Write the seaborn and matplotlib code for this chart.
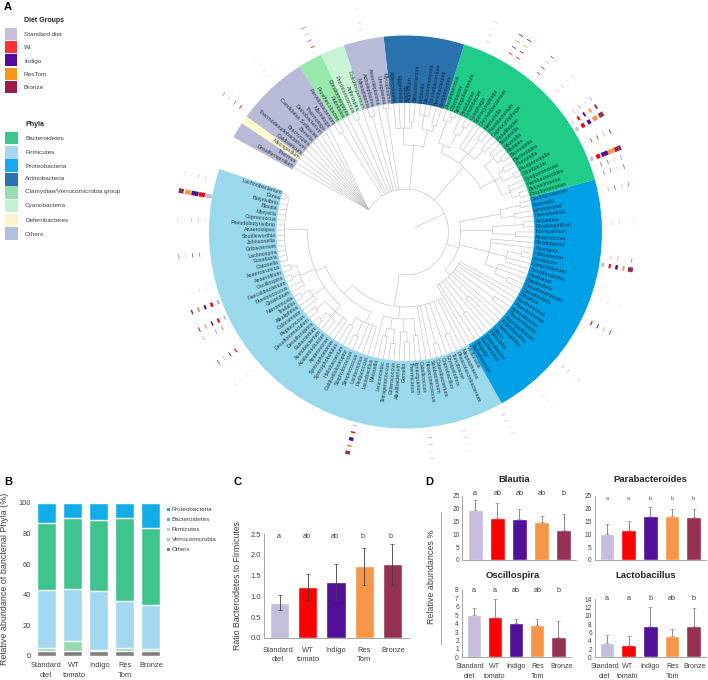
import numpy as np
import matplotlib
matplotlib.use("Agg")
import matplotlib.pyplot as plt
from matplotlib.patches import Rectangle
import seaborn as sns

sns.set_style("white")
plt.rcParams['font.family'] = ['Liberation Sans', 'DejaVu Sans']

W, H = 708, 680
TEXT = '#404040'

# diet groups
GROUPS = ['Standard\ndiet', 'WT\ntomato', 'Indigo', 'Res\nTom', 'Bronze']
GROUP_COLORS = ['#C6BCDC', '#FE0000', '#52109A', '#F79646', '#953153']
LEGEND_DIET = ['Standard diet', 'Wt', 'Indigo', 'ResTom', 'Bronze']
LEGEND_DIET_COLORS = ['#C7BEDD', '#FE3236', '#520B9E', '#F8951D', '#9B1B4A']
LEGEND_PHYLA = ['Bacteroidetes', 'Firmicutes', 'Proteobacteria', 'Actinobacteria',
                'Clamydiae/Verrucomicrobia group', 'Cyanobacteria', 'Deferribacteres', 'Others']
LEGEND_PHYLA_COLORS = ['#3CC68E', '#A5D8F0', '#14ACEC', '#2A72AE', '#9ADDB3', '#C3F3D3', '#FDF3CF', '#B2BDE2']

# panel A, taxa going anticlockwise
FIRMICUTES = ['Lachnobacterium', 'Dorea', 'Butyrivibrio', 'Blautia', 'Moryella', 'Coprococcus',
              'Pseudobutyrivibrio', 'Anaerostipes', 'Shuttleworthia', 'Johnsonella', 'Oribacterium',
              'Lachnospira', 'Roseburia', 'Catonella', 'Anaerotruncus', 'Anaerofilum', 'Oscillospira',
              'Faecalibacterium', 'Ruminococcus', 'Clostridium', 'Natronincola', 'Tindallia',
              'Alkaliphilus', 'Caloramator', 'Peptococcus', 'Desulfotomaculum', 'Desulfurispora',
              'Eubacterium', 'Acetobacterium', 'Acidaminobacter', 'Anaerovorax', 'Syntrophomonas',
              'Syntrophobotulus', 'Heliobacterium', 'Caldicellulosiruptor', 'Staphylococcus',
              'Streptococcus', 'Lactococcus', 'Pediococcus', 'Lactobacillus', 'Weissella', 'Leuconostoc',
              'Tetragenococcus', 'Enterococcus', 'Alkalibacterium', 'Gemella', 'Thermicanus',
              'Ignavigranum', 'Catellicoccus', 'Nosocomiicoccus', 'Solobacterium', 'Catenibacterium',
              'Coprobacillus', 'Erysipelothrix', 'Turicibacter', 'Phascolarctobacterium', 'Megasphaera',
              'Veillonella']
PROTEOBACTERIA = ['Bacteriovorax', 'Shigella', 'Escherichia', 'Enterobacter', 'Klebsiella', 'Vibrio',
                  'Haemophilus', 'Actinobacillus', 'Aggregatibacter', 'Psychrobacter', 'Acinetobacter',
                  'Pseudomonas', 'Xanthomonas', 'Bilophila', 'Desulfovibrio', 'Desulfonatronum',
                  'Bdellovibrio', 'Geobacter', 'Desulfosarcina', 'Campylobacter', 'Arcobacter',
                  'Helicobacter', 'Flexispira', 'Rhodobacter', 'Amaricoccus', 'Novispirillum',
                  'Rhodospirillum', 'Rickettsia', 'Neorickettsia', 'Limnobacter', 'Sutterella',
                  'Dechloromonas']
BACTEROIDETES = ['Porphyromonas', 'Butyricimonas', 'Parabacteroides', 'Dysgonomonas', 'Odoribacter',
                 'Paraprevotella', 'Prevotella', 'Bacteroides', 'Barnesiella', 'Alistipes', 'Rikenella',
                 'Tannerella', 'Paludibacter', 'Capnocytophaga', 'Flavobacterium', 'Riemerella',
                 'Chryseobacterium', 'Sporocytophaga', 'Cytophaga', 'Dyadobacter', 'Pedobacter',
                 'Sphingobacterium', 'Fibrobacter', 'Rhodothermus']
ACTINOBACTERIA = ['Streptomyces', 'Brevibacterium', 'Corynebacterium', 'Micromonospora', 'Kribbella',
                  'Bifidobacterium', 'Atopobium', 'Slackia', 'Eggerthella', 'Adlercreutzia']
OTHERS_1 = ['Mycoplasma', 'Ureaplasma', 'Asteroleplasma', 'Acholeplasma', 'Mesoplasma']
CYANOBACTERIA = ['Dolichospermum', 'Arthrospira', 'Prochlorococcus']
CLAMYDIAE = ['Coraliomargarita', 'Rubritalea', 'Prosthecobacter']
OTHERS_2 = ['Fervidobacterium', 'Marinitoga', 'Thermotoga', 'Deinobacterium', 'Candidatus Solibacter',
            'Borrelia', 'Brachyspira', 'Thermodesulfobacterium', 'Caldisericum']
DEFERRIBACTERES = ['Mucispirillum']
OTHERS_3 = ['Thermus', 'Desulfurispirillum']

SECTORS = [FIRMICUTES, PROTEOBACTERIA, BACTEROIDETES, ACTINOBACTERIA, OTHERS_1,
           CYANOBACTERIA, CLAMYDIAE, OTHERS_2, DEFERRIBACTERES, OTHERS_3]
SECTOR_COLORS = ['#9AD8EB', '#00A0E6', '#1FCC88', '#2A72AE', '#B8BBD8',
                 '#C8F3D5', '#98E8AC', '#B8BBD8', '#FFFACD', '#B8BBD8']

# tree: (radius, child, child, ...), an int child is that many leaves
FIRM_TREE = (75,
             (87,
              (98, (121, (125, 2), 12), (114, (120, 2), (122, 2), 2), (112, (122, 2), 2),
               (106, (118, 2), (113, (122, 2), 2), 2)),
              (99, (108, 2), (115, 2), 3)),
             (87, 1, (98, (106, 2), (112, 2)), (100, 1, (110, 2)), (104, 2)),
             2, (115, 2), 1, (110, 2), 2)
PROT_TREE = (55,
             (62, 2, (100, 2), 1, (90, 2), 2, (110, 2), 1, 2),
             (86, (98, (112, 2), 2), (104, 2, (118, 2)), 2),
             (87, (110, 2), (118, 2)),
             (97, (110, 2), (118, 2)))
BACT_TREE = (87,
             (103, (112, (120, 2), 2), (110, (122, 2), (116, 2)), (115, (120, 2), 2)),
             (100, (112, 2), (118, 2), 2),
             (95, (110, (120, 2), 1), (118, (124, 2), 1)))
ACTI_TREE = (87, (104, (110, 2), (118, 3)), (104, (110, 2), 3))
ROOT_TREE = (43, FIRM_TREE, PROT_TREE, BACT_TREE, ACTI_TREE,
             (125, 2), 1, (120, 2), 1, (122, 2), 1, 1, (118, 2))
FAN_LEAVES = 11
FAN_ANGLE = 509.0

# outer rings: leaf number and bar thickness for each diet
TICK_LEAF = [1, 3, 6, 10, 14, 16, 18, 19, 22, 25, 39, 48, 52, 57, 62, 66, 72, 75, 79, 80, 84,
             88, 90, 91, 92, 94, 96, 97, 98, 101, 104, 107, 108, 111, 126, 132, 138, 143]
TICK_STD = [.15, 7, .15, .2, .1, 3, 2, .3, .3, .1, 1.2, .3, .1, .15, .1, .1, .3, .1, 3, .15, .1,
            .15, .2, .2, 3, .2, 3, .8, .2, .15, .2, .1, .2, .1, .1, .15, .1, .15]
TICK_WT = [.2, 6, .2, .5, .1, 2.5, 2, .5, 1.2, .1, 1.5, .3, .2, .3, .1, .3, 1.2, .1, 2, .3, .15,
           .3, .5, .6, 4, .7, 3.5, 2, .3, .2, .6, .7, .7, .2, .15, .7, .1, .7]
TICK_IND = [.2, 7, .2, .6, .15, 2, 1.5, .4, .9, .1, 3.5, .2, .2, .2, .1, .2, 1, .1, 2.5, .3, .15,
            .5, .5, .5, 7, .7, 3.5, 2, .3, .2, .6, .8, .7, .2, .15, .5, .1, .5]
TICK_RES = [.2, 6, .2, .4, .1, 2, 1.2, .3, .6, .1, 2, .2, .1, .2, .1, .2, .7, .1, 2, .25, .1,
            .4, .4, .4, 7, .6, 5, 2, .3, .2, .5, .7, .7, .2, .1, .5, .1, .4]
TICK_BRO = [.15, 5, .15, .5, .1, 1.5, 1, .3, .8, .1, 3.5, .2, .1, .2, .1, .2, .8, .1, 5, .5, .1,
            .5, .6, .5, 7, .9, 5, 2, .4, .2, .6, .9, .9, .2, .1, .5, .1, .4]

# panel B
PHYLA_B = ['Others', 'Verrucomicrobia', 'Firmicutes', 'Bacteroidetes', 'Proteobacteria']
PHYLA_B_COLORS = ['#7F7F7F', '#97D8AE', '#A2D9F0', '#3FC490', '#12ADE8']
OTHERS_B = [3.4, 3.4, 3.4, 3.4, 3.4]
VERRUCO_B = [1.6, 6.6, 0.8, 1.6, 1.1]
FIRMIC_B = [37.8, 34.0, 38.0, 31.2, 29.0]
BACTERO_B = [44.2, 45.8, 46.8, 54.1, 50.2]
PROTEO_B = [13.0, 10.2, 11.0, 9.7, 16.3]

# panel C
RATIO = [0.85, 1.22, 1.35, 1.73, 1.78]
RATIO_LOW = [0.67, 0.90, 0.90, 1.28, 1.28]
RATIO_HIGH = [1.04, 1.53, 1.77, 2.18, 2.27]
RATIO_LETTERS = ['a', 'ab', 'ab', 'b', 'b']

# panel D
BLAUTIA = [19.6, 16.3, 16.2, 14.8, 11.8]
BLAUTIA_TOP = [23.4, 22.2, 19.9, 17.2, 17.9]
BLAUTIA_LETTERS = ['a', 'ab', 'ab', 'ab', 'b']
PARABAC = [10.3, 11.8, 17.0, 17.2, 16.7]
PARABAC_TOP = [14.0, 15.2, 20.8, 19.8, 19.8]
PARABAC_LETTERS = ['a', 'a', 'b', 'b', 'b']
OSCILLO = [5.0, 4.8, 4.1, 3.85, 2.45]
OSCILLO_TOP = [5.85, 6.95, 4.5, 4.55, 4.35]
OSCILLO_LETTERS = ['a', 'a', 'ab', 'ab', 'b']
LACTO = [3.4, 2.9, 7.5, 5.1, 7.5]
LACTO_TOP = [5.4, 5.1, 12.2, 6.9, 11.8]
LACTO_LETTERS = ['a', 'a', 'b', 'ab', 'b']

fig = plt.figure(figsize=(W / 100, H / 100), dpi=100)


def axes_px(left, right, top, bottom):
    return fig.add_axes([left / W, 1 - bottom / H, (right - left) / W, (bottom - top) / H])


# ---- panel A ----
CX, CY, RMAX = 405.5, 232, 240
RING_IN, RING_OUT = 129, 196.5
START, PITCH = 161.3, 2.38

pol = fig.add_axes([(CX - RMAX) / W, 1 - (CY + RMAX) / H, 2 * RMAX / W, 2 * RMAX / H], projection='polar')
pol.set_ylim(0, RMAX)
pol.set_axis_off()

TREE_COLOR = '#bdbdbd'
TREE_LW = 0.42


def leaf_angle(i):
    return START + (i + 0.5) * PITCH


def tree_line(angle1, r1, angle2, r2):
    pol.plot(np.radians([angle1, angle2]), [r1, r2], color=TREE_COLOR, lw=TREE_LW, zorder=2)


next_leaf = 0


def draw_clade(node, parent_r):
    global next_leaf
    r = node[0]
    angles = []
    for kid in node[1:]:
        if isinstance(kid, int):
            for _ in range(kid):
                a = leaf_angle(next_leaf)
                next_leaf += 1
                tree_line(a, r, a, RING_IN)
                angles.append(a)
        else:
            angles.append(draw_clade(kid, r))
    if node is ROOT_TREE:
        # the last leaves all start from one point of the root arc
        for _ in range(FAN_LEAVES):
            a = leaf_angle(next_leaf)
            next_leaf += 1
            tree_line(FAN_ANGLE, r, a, RING_IN)
        angles.append(FAN_ANGLE)
    mid = (angles[0] + angles[-1]) / 2
    sweep = np.radians(np.linspace(angles[0], angles[-1], 40))
    pol.plot(sweep, np.full(40, r), color=TREE_COLOR, lw=TREE_LW, zorder=2)
    tree_line(mid, parent_r, mid, r)
    return mid


draw_clade(ROOT_TREE, 10)

# coloured ring and the taxa names on it
leaf = 0
for names, color in zip(SECTORS, SECTOR_COLORS):
    a0 = START + leaf * PITCH
    span = len(names) * PITCH
    pol.bar(np.radians(a0 + span / 2), RING_OUT - RING_IN, width=np.radians(span), bottom=RING_IN,
            color=color, edgecolor='none', zorder=1)
    for name in names:
        a = leaf_angle(leaf)
        rel = (a + 90) % 360 - 90
        if rel < 90:
            rot, ha = rel, 'left'
        else:
            rot, ha = rel - 180, 'right'
        pol.text(np.radians(a), 130, name, rotation=rot, rotation_mode='anchor', ha=ha, va='center',
                 fontsize=3.9, color='#10202c', alpha=0.85, zorder=3)
        leaf += 1

# outer rings of diet bars, very thin ones are barely visible
for values, r, color in zip([TICK_STD, TICK_WT, TICK_IND, TICK_RES, TICK_BRO],
                            [200, 207, 214, 221, 228], GROUP_COLORS):
    for i, v in zip(TICK_LEAF, values):
        pol.bar(np.radians(leaf_angle(i)), max(v, 0.6), width=np.radians(1.2), bottom=r - v / 2,
                color=color, edgecolor='none', alpha=min(1, v / 0.6), zorder=1)

# overlay in pixels for the panel A legends and the panel letters
page = fig.add_axes([0, 0, 1, 1], zorder=5)
page.set_xlim(0, W)
page.set_ylim(H, 0)
page.set_axis_off()
page.patch.set_alpha(0)

diet_tops = [28, 41, 54, 68, 81]
diet_text = [34.3, 47.7, 61, 74, 87.7]
for top, ty, name, color in zip(diet_tops, diet_text, LEGEND_DIET, LEGEND_DIET_COLORS):
    page.add_patch(Rectangle((4.5, top), 12.8, 12.2, color=color, lw=0))
    page.text(24, ty, name, fontsize=4.6, va='center', color=TEXT)
page.text(24, 21, 'Diet Groups', fontsize=5, fontweight='bold', va='center', color='#262626')

phyla_tops = [131.7, 146, 159.3, 173, 186, 199.7, 213.7, 227]
phyla_text = [138, 152, 166, 178.7, 191.7, 206, 221, 234.7]
for top, ty, name, color in zip(phyla_tops, phyla_text, LEGEND_PHYLA, LEGEND_PHYLA_COLORS):
    page.add_patch(Rectangle((5, top), 13, 12.6, color=color, lw=0))
    page.text(25, ty, name, fontsize=4.6, va='center', color=TEXT)
page.text(25, 124, 'Phyla', fontsize=5, fontweight='bold', va='center', color='#262626')

for letter, x, y in [('A', 4, 7), ('B', 4, 482), ('C', 234, 482), ('D', 425, 482)]:
    page.text(x, y, letter, fontsize=8, fontweight='bold', va='center', color='black')
page.text(431.7, 576.7, 'Relative abundances %', rotation=90, fontsize=6.4, ha='center', va='center', color=TEXT)
page.plot([440.7, 440.7], [511.7, 644], color='#a6a6a6', lw=0.7)


def group_names(box, y, step, shift, size):
    # group names written one line at a time, they sit close together
    pitch = (box[1] - box[0]) / 5
    for i, name in enumerate(GROUPS):
        for j, line in enumerate(name.split('\n')):
            page.text(box[0] + (i + 0.5) * pitch + shift[i], y + j * step, line, fontsize=size,
                      ha='center', va='center', color=TEXT)


# ---- panel B ----
box_b = (33.7, 163.5, 502.7, 656)
ax_b = axes_px(*box_b)
stack = np.cumsum([OTHERS_B, VERRUCO_B, FIRMIC_B, BACTERO_B, PROTEO_B], axis=0)
for values, color in zip(stack[::-1], PHYLA_B_COLORS[::-1]):
    sns.barplot(x=GROUPS, y=values, color=color, saturation=1, width=0.72, ax=ax_b)
ax_b.set_ylim(0, 100)
ax_b.set_yticks(range(0, 101, 20))
ax_b.set_xticklabels([])
ax_b.tick_params(length=0, labelsize=5.4, labelcolor=TEXT, pad=2)
ax_b.set_ylabel('Relative abundance of bancterial Phyla (%)', fontsize=6.4, color=TEXT, labelpad=7)
sns.despine(ax=ax_b, left=True, bottom=True)
group_names(box_b, 665.7, 9.6, [-0.7, 1.4, 0.7, 0.4, 1.2], 5.4)
for i, name in enumerate(PHYLA_B[::-1]):
    page.add_patch(Rectangle((167, 507.5 + i * 10), 3, 3, color=PHYLA_B_COLORS[::-1][i], lw=0))
    page.text(172, 509.3 + i * 10, name, fontsize=4.5, va='center', color=TEXT)


def style_axes(ax, ylim, yticks, size=5.4, fmt=None):
    ax.set_ylim(*ylim)
    ax.set_yticks(yticks)
    if fmt:
        ax.set_yticklabels([fmt % t for t in yticks])
    ax.tick_params(length=0, labelsize=size, labelcolor=TEXT, pad=2)
    ax.set_xticklabels([])
    ax.set_xlabel('')
    ax.set_ylabel('')
    sns.despine(ax=ax)
    for side in ['left', 'bottom']:
        ax.spines[side].set_color('#a6a6a6')
        ax.spines[side].set_linewidth(0.7)


# ---- panel C ----
box_c = (263.5, 408.5, 534.3, 637.7)
ax_c = axes_px(*box_c)
sns.barplot(x=GROUPS, y=RATIO, hue=GROUPS, palette=GROUP_COLORS, saturation=1, width=0.68, legend=False, ax=ax_c)
ax_c.errorbar(range(5), RATIO, yerr=[np.subtract(RATIO, RATIO_LOW), np.subtract(RATIO_HIGH, RATIO)],
              fmt='none', ecolor='#404040', elinewidth=0.6, capsize=1.2, capthick=0.5, clip_on=False)
style_axes(ax_c, (0, 2.5), [0, 0.5, 1.0, 1.5, 2.0, 2.5], fmt='%.1f')
ax_c.set_ylabel('Ratio Bacteroidetes to Firmicutes', fontsize=6.3, color=TEXT, labelpad=6)
group_names(box_c, 650, 9.3, [0, 1, 0, -1, -1], 5.4)
for i, s in enumerate(RATIO_LETTERS):
    ax_c.text(i - 0.05, 2.45, s, fontsize=5.2, ha='center', va='center', color=TEXT)


# ---- panel D ----
def small_panel(box, title, title_x, title_y, means, tops, letters, ylim, yticks, letter_y,
                letter_size=5.2, shift=None):
    ax = axes_px(*box)
    sns.barplot(x=GROUPS, y=means, hue=GROUPS, palette=GROUP_COLORS, saturation=1, width=0.68, legend=False, ax=ax)
    ax.errorbar(range(5), means, yerr=[np.zeros(5), np.subtract(tops, means)], fmt='none',
                ecolor='#8c8c8c', elinewidth=0.7, capsize=1.2, capthick=0.5, clip_on=False)
    style_axes(ax, ylim, yticks, size=4.7)
    if shift is not None:
        group_names(box, 667, 9.6, shift, 5.1)
    for i, s in enumerate(letters):
        ax.text(i, letter_y, s, fontsize=letter_size, ha='center', va='center', color=TEXT)
    page.text(title_x, title_y, title, fontsize=6.8, fontweight='bold', ha='center', va='center', color='#262626')


small_panel((462.4, 576.4, 496, 560), 'Blautia', 514, 479, BLAUTIA, BLAUTIA_TOP, BLAUTIA_LETTERS,
            (0, 25), range(0, 26, 5), 25.8)
small_panel((594.6, 706, 496, 560), 'Parabacteroides', 650.7, 479, PARABAC, PARABAC_TOP, PARABAC_LETTERS,
            (0, 25), range(0, 26, 5), 24.2, letter_size=3.8)
small_panel((461.6, 570.6, 590, 657.3), 'Oscillospira', 512.7, 576, OSCILLO, OSCILLO_TOP, OSCILLO_LETTERS,
            (0, 8), range(0, 9), 8.0, shift=[-2.5, 0.5, 0, 0, 2])
small_panel((594.6, 706, 599.3, 657.3), 'Lactobacillus', 646, 576, LACTO, LACTO_TOP, LACTO_LETTERS,
            (0, 14), range(0, 15, 2), 14.3, shift=[-1, 0, 0, 0, 0])

fig.savefig('out.png', dpi=100)
